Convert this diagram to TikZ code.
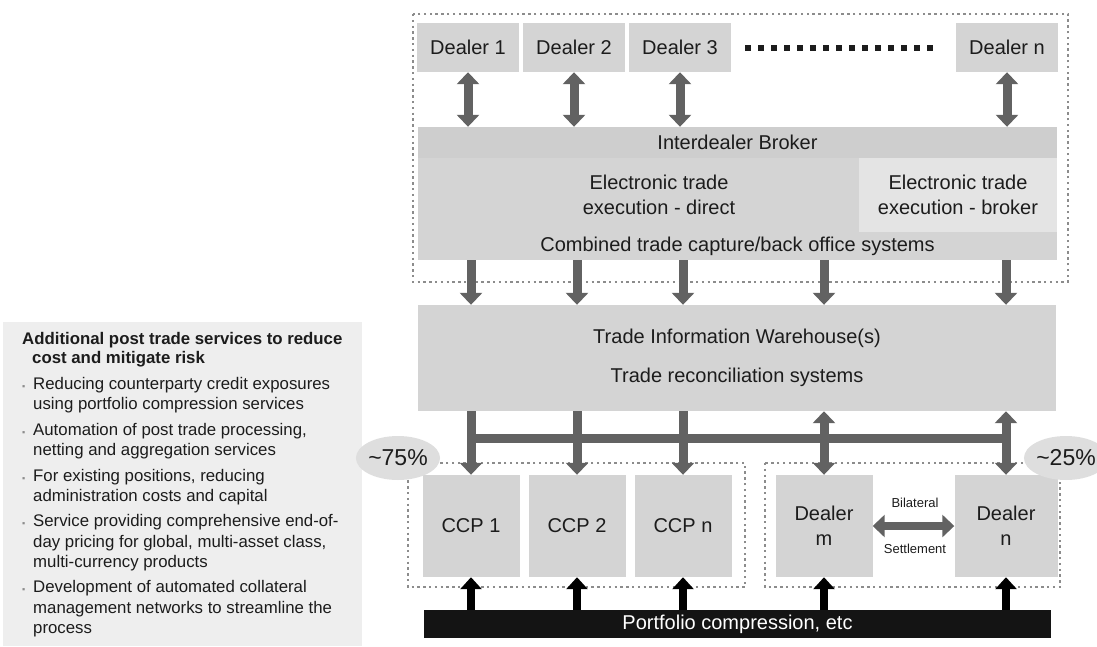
\documentclass[tikz,border=0pt]{standalone}
\usepackage{fontspec}
\setmainfont{Liberation Sans}
\usetikzlibrary{arrows.meta}
\usetikzlibrary{shapes.geometric}

\definecolor{boxgray}{RGB}{212,212,212}
\definecolor{bandgray}{RGB}{206,206,206}
\definecolor{lightgray}{RGB}{228,228,228}
\definecolor{arrowgray}{RGB}{98,98,98}
\definecolor{dotgray}{RGB}{140,140,140}
\definecolor{textgray}{RGB}{28,28,28}
\definecolor{panelgray}{RGB}{238,238,238}

\begin{document}
\begin{tikzpicture}[x=1pt,y=-1pt,node distance=106pt,
	box node/.style={fill=boxgray,inner sep=0pt,align=center,text=textgray,
		font=\fontsize{20}{25}\selectfont},
	dealer node/.style={box node,minimum width=102pt,minimum height=49pt},
	ccp node/.style={box node,minimum width=97pt,minimum height=102pt},
	plain text/.style={inner sep=0pt,align=center,text=textgray,
		font=\fontsize{20}{25}\selectfont},
	dot box/.style={draw=dotgray,line width=2.4pt,dash pattern=on 2.4pt off 3.4pt},
	fat arrow/.style={draw=arrowgray,line width=9pt,
		-{Triangle[width=22pt,length=12pt]}},
	fat both/.style={draw=arrowgray,line width=9pt,
		{Triangle[width=22pt,length=12pt]}-{Triangle[width=22pt,length=12pt]}},
	black arrow/.style={draw=black,line width=8pt,
		-{Triangle[width=21pt,length=12pt]}},
	pct node/.style={ellipse,fill=black!13,inner sep=0pt,minimum width=68pt,
		minimum height=44pt,text=textgray,font=\fontsize{23}{25}\selectfont}]

	\useasboundingbox (0,0) rectangle (1097,646);

	% left panel
	\fill[panelgray] (3,322) rectangle (362,646);
	\node[inner sep=0pt,align=left,anchor=base west,text=textgray,
		font=\fontsize{16.8}{20.3}\selectfont] (svc) at (22,633.5) {%
		\textbf{Additional post trade services to reduce}\\[-1.3pt]
		\hspace*{10pt}\textbf{cost and mitigate risk}\\[5.7pt]
		\makebox[11pt][l]{\textcolor{dotgray}{\fontsize{9}{9}\selectfont ▪}}Reducing counterparty credit exposures\\
		\hspace*{11pt}using portfolio compression services\\[5.2pt]
		\makebox[11pt][l]{\textcolor{dotgray}{\fontsize{9}{9}\selectfont ▪}}Automation of post trade processing,\\
		\hspace*{11pt}netting and aggregation services\\[5.2pt]
		\makebox[11pt][l]{\textcolor{dotgray}{\fontsize{9}{9}\selectfont ▪}}For existing positions, reducing\\
		\hspace*{11pt}administration costs and capital\\[5.2pt]
		\makebox[11pt][l]{\textcolor{dotgray}{\fontsize{9}{9}\selectfont ▪}}Service providing comprehensive end-of-\\
		\hspace*{11pt}day pricing for global, multi-asset class,\\
		\hspace*{11pt}multi-currency products\\[5.2pt]
		\makebox[11pt][l]{\textcolor{dotgray}{\fontsize{9}{9}\selectfont ▪}}Development of automated collateral\\
		\hspace*{11pt}management networks to streamline the\\
		\hspace*{11pt}process};

	% dealers and trade execution
	\draw[dot box] (413,14) rectangle (1068,282);
	\node[dealer node] (d1) at (468,47.5) {Dealer 1};
	\node[dealer node] (d2) [right of=d1] {Dealer 2};
	\node[dealer node] (d3) [right of=d2] {Dealer 3};
	\node[dealer node] (dn) at (1007,47.5) {Dealer n};
	\draw[draw=textgray,line width=6pt,dash pattern=on 6pt off 7pt]
		([xshift=14pt]d3.east) -- ([xshift=-22pt]dn.west);

	\node[box node,fill=bandgray,minimum width=639pt,minimum height=31pt]
		(idb) at (737.5,142.5) {Interdealer Broker};
	\node[box node,minimum width=639pt,minimum height=102pt] (block) at (737.5,209) {};
	\node[box node,fill=lightgray,minimum width=198pt,minimum height=74pt]
		(broker) at (958,195) {Electronic trade\\execution - broker};
	\node[plain text] (direct) at (659,194.5) {Electronic trade\\execution - direct};
	\node[plain text] (capture) at (737.5,246) {Combined trade capture/back office systems};

	\foreach \d in {d1,d2,d3,dn}
		\draw[fat both] (\d.south) -- (\d |- idb.north);

	% warehouse
	\node[box node,minimum width=638pt,minimum height=106pt] (wh) at (737,358)
		{Trade Information Warehouse(s)\\[14pt]Trade reconciliation systems};

	% clearing and bilateral
	\draw[dot box] (408,463) rectangle (745,587);
	\draw[dot box] (765,463) rectangle (1060,587);
	\node[ccp node] (ccp1) at (471,526) {CCP 1};
	\node[ccp node] (ccp2) [right of=ccp1] {CCP 2};
	\node[ccp node] (ccpn) [right of=ccp2] {CCP n};
	\node[ccp node] (dm) at (824,526) {Dealer\\m};
	\node[ccp node,minimum width=103pt] (dn2) at (1006,526) {Dealer\\n};

	\foreach \c in {ccp1,ccp2,ccpn,dm,dn2}
		\draw[fat arrow] (\c |- block.south) -- (\c |- wh.north);

	\coordinate (hub) at (0,438);
	\draw[draw=arrowgray,line width=9pt] (ccp1 |- hub) -- (dn2 |- hub);
	\foreach \c in {ccp1,ccp2,ccpn}
		\draw[fat arrow] (\c |- wh.south) -- (\c.north);
	\foreach \c in {dm,dn2}
		\draw[fat both] (\c |- wh.south) -- (\c.north);

	\draw[fat both,line width=8pt] (dm.east) -- (dn2.west);
	\node[plain text,font=\fontsize{13}{15}\selectfont] (bil) at (915,503) {Bilateral};
	\node[plain text,font=\fontsize{13}{15}\selectfont] (set) at (915,549) {Settlement};

	\node[pct node] (p75) at (398,458) {\textasciitilde75\%};
	\node[pct node] (p25) at (1066,458) {\textasciitilde25\%};

	% compression
	\node[fill=black!92,inner sep=0pt,minimum width=627pt,minimum height=28pt,
		text=white,font=\fontsize{20}{24}\selectfont] (pc) at (737.5,624)
		{Portfolio compression, etc};
	\foreach \c in {ccp1,ccp2,ccpn,dm,dn2}
		\draw[black arrow] (\c |- pc.north) -- (\c.south);
\end{tikzpicture}
\end{document}
